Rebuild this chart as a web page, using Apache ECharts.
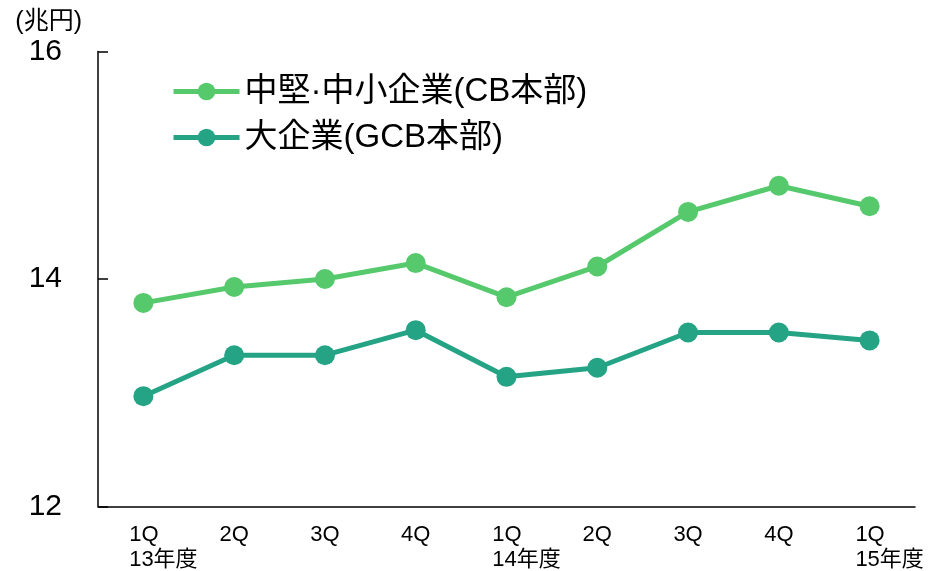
<!DOCTYPE html>
<html>
<head>
<meta charset="utf-8">
<script src="https://cdn.jsdelivr.net/npm/echarts@6/dist/echarts.min.js"></script>
<style>
  html, body { margin: 0; padding: 0; background: #fff; }
  #chart { width: 930px; height: 571px; }
</style>
</head>
<body>
<div id="chart"></div>
<script>
// Quarterly loan balances (trillion yen), FY13 1Q – FY15 1Q
const quarters = ['1Q', '2Q', '3Q', '4Q', '1Q', '2Q', '3Q', '4Q', '1Q'];
const fiscalYears = ['13年度', '', '', '', '14年度', '', '', '', '15年度'];
const midSmallCorp = [13.79, 13.93, 14.00, 14.14, 13.84, 14.11, 14.59, 14.82, 14.64];
const largeCorp = [12.97, 13.33, 13.33, 13.55, 13.14, 13.22, 13.53, 13.53, 13.46];
const seriesNames = ['中堅·中小企業(CB本部)', '大企業(GCB本部)'];
const yTicks = { min: 12, max: 16, interval: 2 };

const FONT = '"Liberation Sans", "Noto Sans CJK JP", sans-serif';
const categories = quarters.map((q, i) => i + ':' + q);

const chart = echarts.init(document.getElementById('chart'), null, { renderer: 'canvas' });

chart.setOption({
  animation: false,
  backgroundColor: '#ffffff',
  textStyle: { fontFamily: FONT, color: '#000' },
  grid: { left: 98, right: 15, top: 51.5, bottom: 64.5, containLabel: false, outerBoundsMode: 'none' },
  legend: {
    orient: 'vertical',
    left: 166,
    top: 70,
    padding: 5,
    itemWidth: 66,
    itemHeight: 22,
    itemGap: 13,
    lineStyle: { width: 5 },
    textStyle: { fontSize: 33, fontFamily: FONT, color: '#000' },
    data: seriesNames
  },
  xAxis: {
    type: 'category',
    data: categories,
    boundaryGap: true,
    axisLine: { lineStyle: { color: '#000', width: 1.5 } },
    axisTick: { inside: true, length: 9, alignWithLabel: false, lineStyle: { color: '#000', width: 1.5 } },
    axisLabel: {
      margin: 16,
      interval: 0,
      fontSize: 22,
      fontFamily: FONT,
      color: '#000',
      lineHeight: 25,
      formatter: (v, i) => {
        const q = quarters[i];
        const y = fiscalYears[i];
        return y ? '{q|' + q + '}\n{y|' + y + '}' : q;
      },
      rich: {
        q: { fontSize: 22, fontFamily: FONT, color: '#000', lineHeight: 25, align: 'left', padding: [0, 0, 0, 40] },
        y: { fontSize: 22, fontFamily: FONT, color: '#000', lineHeight: 25, align: 'left', padding: [0, 0, 0, 40] }
      }
    },
    splitLine: { show: false }
  },
  yAxis: {
    type: 'value',
    min: yTicks.min,
    max: yTicks.max,
    interval: yTicks.interval,
    name: '(兆円)',
    nameLocation: 'end',
    nameGap: 29,
    nameTextStyle: { fontSize: 25, fontFamily: FONT, color: '#000', align: 'right', verticalAlign: 'middle', padding: [0, 16, 0, 0] },
    axisLine: { show: true, lineStyle: { color: '#000', width: 1.5 } },
    axisTick: { show: true, inside: true, length: 10, lineStyle: { color: '#000', width: 1.5 } },
    axisLabel: { margin: 36, fontSize: 30, fontFamily: FONT, color: '#000' },
    splitLine: { show: false }
  },
  series: [
    {
      name: seriesNames[0],
      type: 'line',
      data: midSmallCorp,
      symbol: 'circle',
      symbolSize: 20,
      lineStyle: { color: '#55c96c', width: 5 },
      itemStyle: { color: '#55c96c' }
    },
    {
      name: seriesNames[1],
      type: 'line',
      data: largeCorp,
      symbol: 'circle',
      symbolSize: 20,
      lineStyle: { color: '#25a385', width: 5 },
      itemStyle: { color: '#25a385' }
    }
  ]
});
</script>
</body>
</html>
